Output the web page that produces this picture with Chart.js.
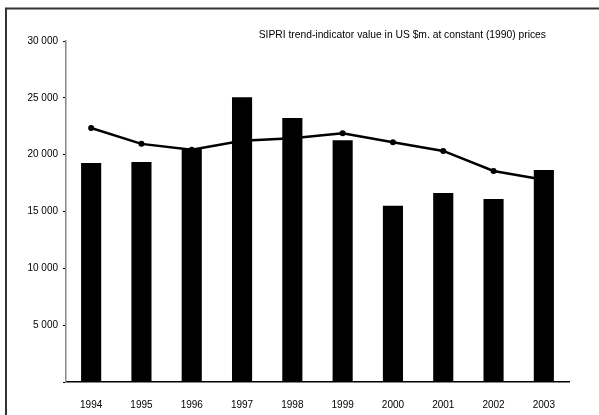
<!DOCTYPE html>
<html>
<head>
<meta charset="utf-8">
<script src="https://cdn.jsdelivr.net/npm/chart.js@4/dist/chart.umd.min.js"></script>
<style>
  html, body { margin: 0; padding: 0; background: #fff; }
  #wrap { position: relative; width: 599px; height: 415px; }
</style>
</head>
<body>
<div id="wrap"><canvas id="chart" width="599" height="415"></canvas></div>
<script>
const YEARS = ['1994', '1995', '1996', '1997', '1998', '1999', '2000', '2001', '2002', '2003'];
const YEARLY_VALUES = [19270, 19350, 20500, 25050, 23230, 21260, 15500, 16620, 16090, 18650];
const TREND_VALUES = [22350, 20950, 20440, 21230, 21440, 21880, 21090, 20330, 18560, 17800];
const Y_TICKS = [0, 5000, 10000, 15000, 20000, 25000, 30000];
const NOTE = 'SIPRI trend-indicator value in US $m. at constant (1990) prices';

const FONT = "'Liberation Sans', Arial, sans-serif";

function fmtThousands(v) {
  if (v === 0) return '';
  return String(v).replace(/\B(?=(\d{3})+(?!\d))/g, ' ');
}

// outer frame + note text
const decor = {
  id: 'decor',
  beforeDraw(chart) {
    const ctx = chart.ctx;
    ctx.save();
    ctx.strokeStyle = '#333';
    ctx.lineWidth = 2;
    ctx.beginPath();
    ctx.moveTo(6, 420);
    ctx.lineTo(6, 8.5);
    ctx.lineTo(605, 8.5);
    ctx.stroke();
    ctx.restore();
  },
  afterDraw(chart) {
    const ctx = chart.ctx;
    ctx.save();
    ctx.fillStyle = '#000';
    ctx.font = '10.3px ' + FONT;
    ctx.textAlign = 'right';
    ctx.textBaseline = 'middle';
    ctx.fillText(NOTE, 546, 35);
    ctx.restore();
  }
};

new Chart(document.getElementById('chart'), {
  data: {
    labels: YEARS,
    datasets: [
      {
        type: 'bar',
        data: YEARLY_VALUES,
        backgroundColor: '#000',
        borderColor: '#000',
        borderWidth: 0,
        barPercentage: 0.4,
        categoryPercentage: 1,
        order: 0
      },
      {
        type: 'line',
        data: TREND_VALUES,
        borderColor: '#000',
        backgroundColor: '#000',
        borderWidth: 2.5,
        pointRadius: 3,
        pointBackgroundColor: '#000',
        pointBorderWidth: 0,
        tension: 0,
        order: 1
      }
    ]
  },
  options: {
    responsive: false,
    animation: false,
    layout: { padding: { left: 0, top: 41, right: 30, bottom: 0 } },
    plugins: { legend: { display: false }, tooltip: { enabled: false } },
    scales: {
      x: {
        grid: { display: false },
        border: { color: '#000', width: 1.5 },
        ticks: { color: '#000', font: { family: FONT, size: 10 }, padding: 9, maxRotation: 0 },
        afterFit: s => { s.height = 33; }
      },
      y: {
        min: 0,
        max: 30000,
        afterBuildTicks: s => { s.ticks = Y_TICKS.map(v => ({ value: v })); },
        grid: { drawOnChartArea: false, color: '#000', tickLength: 3, tickWidth: 1 },
        border: { color: '#888', width: 1.5 },
        ticks: {
          color: '#000',
          font: { family: FONT, size: 10 },
          padding: 5,
          callback: v => fmtThousands(v)
        },
        afterFit: s => { s.width = 66; }
      }
    }
  },
  plugins: [decor]
});
</script>
</body>
</html>
